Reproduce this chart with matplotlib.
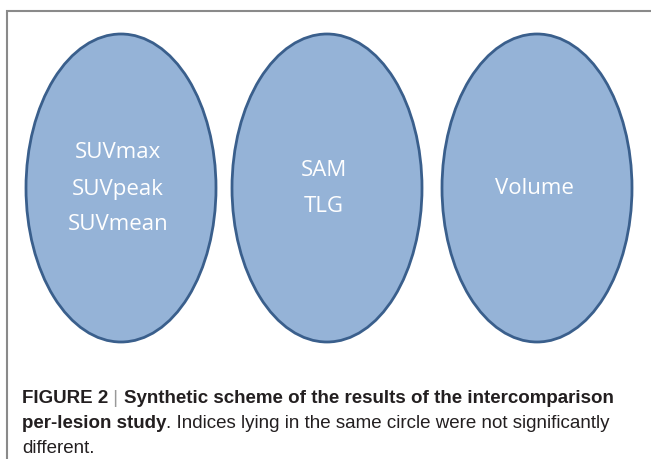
import matplotlib
matplotlib.use('Agg')
import matplotlib.pyplot as plt
from matplotlib.patches import Ellipse
from matplotlib import font_manager

# groups of indices that were not significantly different
groups = [
    ['SUVmax', 'SUVpeak', 'SUVmean'],
    ['SAM', 'TLG'],
    ['Volume'],
]
centers_x = [121, 327, 537]

caption_lines = [
    [('FIGURE 2', 'bold'), (' | ', 'light'), ('Synthetic scheme of the results of the intercomparison', 'bold')],
    [('per-lesion study', 'bold'), ('. Indices lying in the same circle were not significantly', 'normal')],
    [('different.', 'normal')],
]

names = {f.name for f in font_manager.fontManager.ttflist}
cap_font = 'Liberation Sans Narrow' if 'Liberation Sans Narrow' in names else 'Liberation Sans'
blob_font = 'Open Sans'

fig = plt.figure(figsize=(6.51, 4.59), dpi=100)
ax = fig.add_axes([0, 0, 1, 1])
ax.set_xlim(0, 651)
ax.set_ylim(459, 0)
ax.axis('off')

# grey frame (top and left visible)
ax.plot([7, 7, 660], [470, 10.5, 10.5], color='#8a8a8a', lw=1.5, solid_joinstyle='miter')

for cx, items in zip(centers_x, groups):
    e = Ellipse((cx, 188), 190, 308, facecolor='#95b3d7', edgecolor='#3a5f8c', lw=2.0)
    ax.add_patch(e)
    n = len(items)
    for i, t in enumerate(items):
        y = 189 + (i - (n - 1) / 2) * 36
        ax.text(cx - 3, y, t, color='white', fontsize=16, family=blob_font,
                ha='center', va='center')

fig.canvas.draw()
renderer = fig.canvas.get_renderer()
line_y = [403, 428, 453]
for y, segs in zip(line_y, caption_lines):
    x = 22
    for s, w in segs:
        if w == 'light':
            t = ax.text(x, y, s, fontsize=13.5, family=cap_font, color='#999999',
                        ha='left', va='baseline')
        else:
            t = ax.text(x, y, s, fontsize=13.5, family=cap_font, color='#231f20',
                        weight=w, ha='left', va='baseline')
        bb = t.get_window_extent(renderer)
        x += bb.width  # 1 data unit == 1 pixel
fig.savefig('out.png', dpi=100)
